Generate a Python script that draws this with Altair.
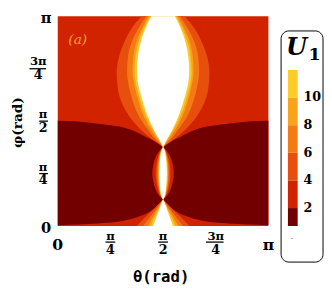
import altair as alt
import pandas as pd

# ---------------- data (angles in units of pi) -------------
BAND_NAMES = ["<2", "2-4", "4-6", "6-8", "8-10", "10-12"]
BAND_LO = [0.7, 2, 4, 6, 8, 10]
BAND_HI = [2, 4, 6, 8, 10, 12]
BAND_COLORS = ["#730000", "#d22300", "#e84e0c", "#f47a14", "#f9a31a", "#fdcb2a"]
ABOVE_COLOR = "#ffffff"  # U1 > 12
COLORBAR_TICKS = [2, 4, 6, 8, 10]

# dark region (U1 < 2), left half; right half mirrors it about theta = pi/2
DARK_THETA = [0.0, 0.097, 0.190, 0.292, 0.375, 0.421, 0.458, 0.481, 0.5]
DARK_TOP = [0.502, 0.498, 0.488, 0.474, 0.447, 0.423, 0.405, 0.391, 0.377]
DARK_BOTTOM = [0.004, 0.007, 0.012, 0.021, 0.042, 0.060, 0.084, 0.102, 0.126]

# upper lobe around theta = pi/2: half-width of each level region vs phi
UPPER_PHI = [1.0, 0.944, 0.874, 0.805, 0.735, 0.665, 0.595, 0.526, 0.456, 0.409, 0.377]
UPPER_HALF = {
    "4-6":   [0.102, 0.148, 0.185, 0.210, 0.220, 0.216, 0.199, 0.162, 0.102, 0.046, 0.0],
    "6-8":   [0.080, 0.116, 0.150, 0.167, 0.171, 0.162, 0.144, 0.116, 0.069, 0.032, 0.0],
    "8-10":  [0.069, 0.099, 0.128, 0.141, 0.145, 0.135, 0.117, 0.093, 0.056, 0.023, 0.0],
    "10-12": [0.062, 0.090, 0.117, 0.131, 0.135, 0.126, 0.107, 0.083, 0.047, 0.019, 0.0],
    "above": [0.056, 0.083, 0.107, 0.120, 0.124, 0.116, 0.097, 0.074, 0.042, 0.016, 0.0],
}

# middle lens between the two pinch points
MID_PHI = [0.377, 0.358, 0.335, 0.298, 0.251, 0.205, 0.167, 0.144, 0.126]
MID_HALF = {
    "2-4":   [0.0, 0.018, 0.032, 0.045, 0.051, 0.045, 0.032, 0.018, 0.0],
    "4-6":   [0.0, 0.013, 0.022, 0.031, 0.035, 0.031, 0.022, 0.013, 0.0],
    "6-8":   [0.0, 0.011, 0.018, 0.025, 0.028, 0.025, 0.018, 0.011, 0.0],
    "8-10":  [0.0, 0.010, 0.016, 0.022, 0.024, 0.022, 0.016, 0.010, 0.0],
    "10-12": [0.0, 0.009, 0.014, 0.019, 0.021, 0.019, 0.014, 0.009, 0.0],
    "above": [0.0, 0.008, 0.012, 0.016, 0.018, 0.016, 0.012, 0.008, 0.0],
}

# lower wedge near phi = 0
LOW_PHI = [0.126, 0.098, 0.065, 0.033, 0.0]
LOW_HALF = {
    "4-6":   [0.0, 0.028, 0.060, 0.093, 0.125],
    "6-8":   [0.0, 0.021, 0.044, 0.069, 0.095],
    "8-10":  [0.0, 0.016, 0.035, 0.053, 0.072],
    "10-12": [0.0, 0.014, 0.028, 0.044, 0.058],
    "above": [0.0, 0.012, 0.023, 0.035, 0.046],
}

# tick labels
SINGLE_VAL = [0, 1]
SINGLE_TXT = ["0", "π"]
FRAC_VAL = [0.25, 0.5, 0.75]
FRAC_NUM = ["π", "π", "3π"]
FRAC_DEN = ["4", "2", "4"]

PANEL_LABEL = "(a)"
PANEL_LABEL_POS = (0.095, 0.886)

# ---------------- chart ----------------
W, H = 216, 215
XS = alt.Scale(domain=[0, 1], nice=False, zero=False)
YS = alt.Scale(domain=[0, 1], nice=False, zero=False)
SERIF = "DejaVu Serif"
MONO = "DejaVu Sans Mono"


def color_of(name):
    return ABOVE_COLOR if name == "above" else BAND_COLORS[BAND_NAMES.index(name)]


layers = []

for side in (0, 1):
    th = DARK_THETA if side == 0 else [1 - t for t in DARK_THETA]
    df = pd.DataFrame({"theta": th, "lo": DARK_BOTTOM, "hi": DARK_TOP})
    layers.append(
        alt.Chart(df).mark_area(interpolate="monotone", color=BAND_COLORS[0]).encode(
            x=alt.X("theta:Q", scale=XS, axis=None),
            y=alt.Y("lo:Q", scale=YS, axis=None, stack=None),
            y2="hi:Q",
        )
    )


def lobe(phi, halves):
    out = []
    for name, hw in halves.items():
        df = pd.DataFrame({"phi": phi,
                           "lo": [0.5 - h for h in hw],
                           "hi": [0.5 + h for h in hw]})
        out.append(
            alt.Chart(df).mark_area(orient="horizontal", interpolate="monotone",
                                    color=color_of(name)).encode(
                y=alt.Y("phi:Q", scale=YS, axis=None),
                x=alt.X("lo:Q", scale=XS, axis=None, stack=None),
                x2="hi:Q",
            )
        )
    return out


layers += lobe(UPPER_PHI, UPPER_HALF)
layers += lobe(MID_PHI, MID_HALF)
layers += lobe(LOW_PHI, LOW_HALF)

layers.append(
    alt.Chart(pd.DataFrame({"x": [PANEL_LABEL_POS[0]], "y": [PANEL_LABEL_POS[1]], "t": [PANEL_LABEL]}))
    .mark_text(font=SERIF, fontStyle="italic", fontSize=14, color="#f4a030")
    .encode(x=alt.X("x:Q", scale=XS, axis=None), y=alt.Y("y:Q", scale=YS, axis=None), text="t:N")
)

single = pd.DataFrame({"v": SINGLE_VAL, "t": SINGLE_TXT})
frac = pd.DataFrame({"v": FRAC_VAL, "num": FRAC_NUM, "den": FRAC_DEN})
frac_n = frac[frac["num"] == "π"]
frac_w = frac[frac["num"] != "π"]

# x-axis labels
layers.append(alt.Chart(single).mark_text(font=SERIF, fontWeight="bold", fontSize=16, baseline="middle")
              .encode(x=alt.X("v:Q", scale=XS, axis=None), y=alt.value(235), text="t:N"))
layers.append(alt.Chart(frac).mark_text(font=SERIF, fontWeight="bold", fontSize=12, baseline="middle")
              .encode(x=alt.X("v:Q", scale=XS, axis=None), y=alt.value(225), text="num:N"))
layers.append(alt.Chart(frac).mark_text(font=SERIF, fontWeight="bold", fontSize=13, baseline="middle")
              .encode(x=alt.X("v:Q", scale=XS, axis=None), y=alt.value(240), text="den:N"))
layers.append(alt.Chart(frac_n).mark_rule(color="black", strokeWidth=1.3, xOffset=-5, x2Offset=5)
              .encode(x=alt.X("v:Q", scale=XS, axis=None), x2="v:Q", y=alt.value(231.5)))
layers.append(alt.Chart(frac_w).mark_rule(color="black", strokeWidth=1.3, xOffset=-10, x2Offset=8)
              .encode(x=alt.X("v:Q", scale=XS, axis=None), x2="v:Q", y=alt.value(231.5)))

# y-axis labels
layers.append(alt.Chart(single).mark_text(font=SERIF, fontWeight="bold", fontSize=15, baseline="middle", dy=2)
              .encode(y=alt.Y("v:Q", scale=YS, axis=None), x=alt.value(-12), text="t:N"))
layers.append(alt.Chart(frac_n).mark_text(font=SERIF, fontWeight="bold", fontSize=12, baseline="middle", dy=-7)
              .encode(y=alt.Y("v:Q", scale=YS, axis=None), x=alt.value(-15), text="num:N"))
layers.append(alt.Chart(frac_n).mark_text(font=SERIF, fontWeight="bold", fontSize=13, baseline="middle", dy=7)
              .encode(y=alt.Y("v:Q", scale=YS, axis=None), x=alt.value(-15), text="den:N"))
layers.append(alt.Chart(frac_w).mark_text(font=SERIF, fontWeight="bold", fontSize=12, baseline="middle", dy=-8)
              .encode(y=alt.Y("v:Q", scale=YS, axis=None), x=alt.value(-20), text="num:N"))
layers.append(alt.Chart(frac_w).mark_text(font=SERIF, fontWeight="bold", fontSize=13, baseline="middle", dy=7)
              .encode(y=alt.Y("v:Q", scale=YS, axis=None), x=alt.value(-20), text="den:N"))
layers.append(alt.Chart(frac_n).mark_rule(color="black", strokeWidth=1.3)
              .encode(y=alt.Y("v:Q", scale=YS, axis=None), x=alt.value(-19), x2=alt.value(-10)))
layers.append(alt.Chart(frac_w).mark_rule(color="black", strokeWidth=1.3)
              .encode(y=alt.Y("v:Q", scale=YS, axis=None), x=alt.value(-29), x2=alt.value(-12)))

one = pd.DataFrame({"k": [0]})
layers.append(alt.Chart(one).mark_text(font=MONO, fontWeight="bold", fontSize=16,
                                       baseline="middle", text="θ(rad)")
              .encode(x=alt.value(106), y=alt.value(267)))
layers.append(alt.Chart(one).mark_text(font=SERIF, fontWeight="bold", fontSize=14, angle=270,
                                       baseline="middle", text="φ(rad)")
              .encode(x=alt.value(-41), y=alt.value(109)))

layers.append(alt.Chart(one).mark_rect(fill="white", stroke="black", strokeWidth=1, cornerRadius=8)
              .encode(x=alt.value(229), x2=alt.value(272), y=alt.value(15), y2=alt.value(252)))
CBS = alt.Scale(domain=[BAND_LO[0], BAND_HI[-1]], range=[215, 55], nice=False, zero=False)
cb = pd.DataFrame({"band": BAND_NAMES, "lo": BAND_LO, "hi": BAND_HI})
layers.append(alt.Chart(cb).mark_rect().encode(
    x=alt.value(236), x2=alt.value(246),
    y=alt.Y("lo:Q", scale=CBS, axis=None), y2="hi:Q",
    color=alt.Color("band:N", scale=alt.Scale(domain=BAND_NAMES, range=BAND_COLORS), legend=None)))
layers.append(alt.Chart(pd.DataFrame({"v": COLORBAR_TICKS})).mark_text(
    font=SERIF, fontWeight="bold", fontSize=13, align="left", baseline="middle")
    .encode(x=alt.value(252), y=alt.Y("v:Q", scale=CBS, axis=None), text=alt.Text("v:Q")))
layers.append(alt.Chart(one).mark_text(font=SERIF, fontWeight="bold", fontStyle="italic", fontSize=25,
                                       align="center", baseline="alphabetic", text="U")
              .encode(x=alt.value(245), y=alt.value(40)))
layers.append(alt.Chart(one).mark_text(font=SERIF, fontWeight="bold", fontSize=18,
                                       align="left", baseline="alphabetic", text="1")
              .encode(x=alt.value(257), y=alt.value(45)))
layers.append(alt.Chart(one).mark_text(fontSize=8, color="#888888",
                                       align="center", baseline="middle", text="-")
              .encode(x=alt.value(240), y=alt.value(227)))

chart = (
    alt.layer(*layers)
    .resolve_scale(y="independent")
    .properties(width=W, height=H,
                autosize=alt.AutoSizeParams(type="none"),
                padding={"left": 51, "top": 5, "right": 57, "bottom": 58})
    .configure_view(fill=BAND_COLORS[1], stroke=None)
)

chart.save("out.html", embed_options={"renderer": "svg", "actions": False})
